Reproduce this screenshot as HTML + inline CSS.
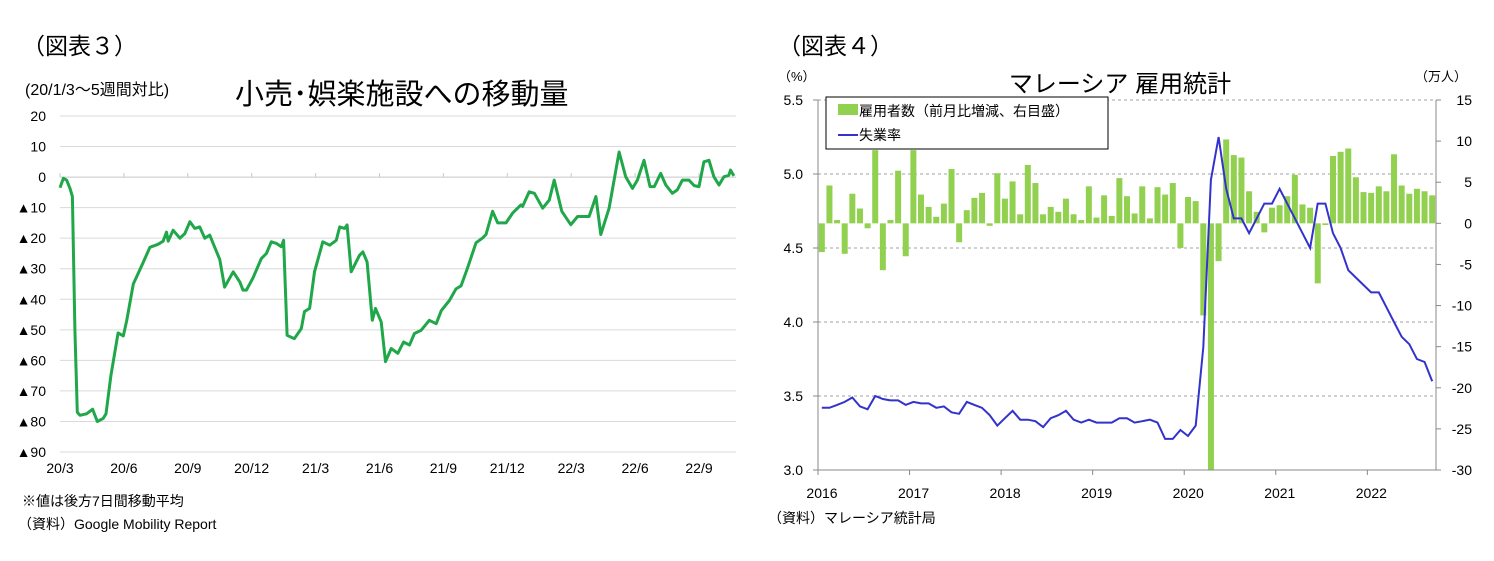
<!DOCTYPE html>
<html><head><meta charset="utf-8">
<style>
body{margin:0;background:#fff;width:1494px;height:561px;overflow:hidden;font-family:"Liberation Sans","Noto Sans CJK JP",sans-serif;}
svg{position:absolute;left:0;top:0}
</style></head>
<body>
<svg id="chart" width="1494" height="561" font-family="'Liberation Sans','Noto Sans CJK JP',sans-serif"></svg>
<script>
// ---------- Left chart data ----------
const mobMonths=[0,0.16,0.31,0.47,0.58,0.7,0.81,0.94,1.25,1.53,1.75,2.03,2.16,2.39,2.73,2.97,3.13,3.44,3.9,4.22,4.6,4.84,5,5.08,5.31,5.63,5.86,6.1,6.33,6.56,6.8,7.03,7.5,7.73,8.13,8.44,8.59,8.75,9.06,9.45,9.69,9.92,10.16,10.39,10.5,10.66,11,11.33,11.48,11.72,11.95,12.34,12.66,12.97,13.13,13.36,13.48,13.67,14.06,14.22,14.42,14.66,14.81,15.08,15.28,15.55,15.86,16.13,16.41,16.64,16.95,17.34,17.66,17.9,18.28,18.59,18.83,19.14,19.53,19.84,20,20.31,20.55,20.94,21.25,21.64,21.72,22.03,22.27,22.66,22.97,23.2,23.56,23.98,24.3,24.84,25.16,25.39,25.78,26.25,26.56,26.88,27.11,27.42,27.7,27.9,28.2,28.44,28.75,28.98,29.22,29.53,29.77,30,30.23,30.47,30.7,30.94,31.17,31.4,31.48,31.64];
const mobValues=[-3.5,-0.4,-1,-3.7,-6.4,-50,-77,-78,-77.5,-76,-80,-79,-77.5,-65,-51,-52,-47,-35,-28,-23,-22,-21,-18,-21,-17.4,-20,-18.5,-14.6,-16.8,-16.3,-20,-19,-27,-36,-31,-34.3,-37,-37,-33,-26.7,-25,-21.2,-21.7,-22.8,-20.7,-51.8,-52.9,-49.6,-44,-43,-31,-21.2,-22.3,-20.7,-16.3,-16.8,-15.7,-31,-25.6,-24.5,-27.8,-46.9,-43,-47.4,-60.4,-56.1,-57.7,-54,-55,-51.2,-50.2,-46.9,-48,-43.7,-40.4,-36.6,-35.6,-29.6,-21.5,-19.9,-18.8,-11.2,-15,-15,-11.8,-9.1,-9.6,-4.8,-5.3,-10.2,-7.5,-1,-11.2,-15.6,-12.9,-12.9,-6.4,-18.8,-10.2,8.2,0.1,-3.7,-1,5.5,-3.1,-3.1,1.2,-2.6,-5.3,-4.2,-1,-1,-2.8,-3.1,5,5.5,0.1,-2.6,0.1,0.6,2.3,0.4];
const mobYTicks=[20,10,0,-10,-20,-30,-40,-50,-60,-70,-80,-90];
const mobXLabels=["20/3","20/6","20/9","20/12","21/3","21/6","21/9","21/12","22/3","22/6","22/9"];
// ---------- Right chart data ----------
const years=["2016","2017","2018","2019","2020","2021","2022"];
const unemp=[3.42,3.42,3.44,3.46,3.49,3.43,3.41,3.50,3.48,3.47,3.47,3.44,
3.46,3.45,3.45,3.42,3.43,3.39,3.38,3.46,3.44,3.42,3.37,3.30,
3.35,3.40,3.34,3.34,3.33,3.29,3.35,3.37,3.40,3.34,3.32,3.34,
3.32,3.32,3.32,3.35,3.35,3.32,3.33,3.34,3.32,3.21,3.21,3.27,
3.23,3.30,3.83,4.96,5.25,4.9,4.7,4.7,4.6,4.7,4.8,4.8,
4.9,4.8,4.7,4.6,4.5,4.8,4.8,4.6,4.5,4.35,4.3,4.25,
4.2,4.2,4.1,4.0,3.9,3.85,3.75,3.73,3.6];
const employ=[-3.5,4.6,0.4,-3.7,3.6,1.8,-0.6,8.9,-5.7,0.4,6.4,-4.0,
8.9,3.5,2.0,0.8,2.4,6.6,-2.3,1.6,3.1,3.7,-0.3,6.1,
3.0,5.1,1.1,7.1,4.9,1.1,2.0,1.4,3.0,1.1,0.4,4.5,
0.7,3.4,0.9,5.5,3.3,1.2,4.5,0.6,4.4,3.5,4.9,-3.0,
3.2,2.7,-11.2,-30,-4.6,10.2,8.3,8.0,3.9,1.4,-1.1,1.9,
2.2,3.3,5.9,2.3,1.9,-7.3,-0.2,8.2,8.7,9.1,5.6,3.8,
3.7,4.5,3.9,8.4,4.6,3.6,4.2,3.9,3.4];
const leftTicks=[5.5,5.0,4.5,4.0,3.5,3.0];
const rightTicks=[15,10,5,0,-5,-10,-15,-20,-25,-30];

const svg=document.getElementById('chart');
const NS='http://www.w3.org/2000/svg';
function el(tag,attrs,parent){const e=document.createElementNS(NS,tag);for(const k in attrs)e.setAttribute(k,attrs[k]);(parent||svg).appendChild(e);return e;}
function txt(s,x,y,size,anchor,parent){const t=el('text',{x:x,y:y,'font-size':size,'text-anchor':anchor||'start',fill:'#000'},parent);t.textContent=s;return t;}

// ===== Left chart =====
const L={x0:60,x1:736,y20:116,y90:452};
const ly=v=>L.y20+(20-v)*(L.y90-L.y20)/110;
const lx=m=>L.x0+m*21.3;
const gL=el('g',{});


let t;
t=txt('（図表３）',22,54,23,'start',gL);
t=txt('(20/1/3～5週間対比)',25,95,16,'start',gL);
t=txt('小売･娯楽施設への移動量',235,104,29,'start',gL);
mobYTicks.forEach(v=>{
  const g=el('line',{x1:L.x0,x2:L.x1,y1:ly(v),y2:ly(v),stroke:v===0?'#c8c8c8':'#d9d9d9','stroke-width':1},gL);
  
  const s=v<=0&&v!==0?'▲'+(-v):String(v);
  const tt=txt(s,46,ly(v)+5,14,'end',gL);
  
});
mobXLabels.forEach((s,i)=>{
  const x=lx(i*3);
  const tk=el('line',{x1:x,x2:x,y1:ly(0)-4,y2:ly(0),stroke:'#c8c8c8'},gL);
  
  const tt=txt(s,x,473,14,'middle',gL);
  
});
const pts=mobMonths.map((m,i)=>lx(m).toFixed(1)+','+ly(mobValues[i]).toFixed(1)).join(' ');
const pl=el('polyline',{points:pts,fill:'none',stroke:'#1fa74a','stroke-width':3,'stroke-linejoin':'round'},gL);

t=txt('※値は後方7日間移動平均',22,506,14,'start',gL);
t=txt('（資料）Google Mobility Report',18,529,14,'start',gL);

// ===== Right chart =====
const R={x0:818,x1:1436,yTop:100,yBot:470};
const mw=(R.x1-R.x0)/81;
const rx=i=>R.x0+(i+0.5)*mw;
const yL=v=>R.yBot-(v-3.0)*(R.yBot-R.yTop)/2.5;
const yR=v=>R.yBot-(v+30)*(R.yBot-R.yTop)/45;
const gR=el('g',{});


t=txt('（図表４）',778,54,23,'start',gR);
t=txt('マレーシア 雇用統計',1120,92,24,'middle',gR);
t=txt('（%）',778,81,13,'start',gR);
t=txt('（万人）',1415,81,13,'start',gR);
leftTicks.forEach(v=>{
  if(v>3.0){const g=el('line',{x1:R.x0,x2:R.x1,y1:yL(v),y2:yL(v),stroke:'#a0a0a0','stroke-dasharray':'3,3'},gR);
  }
  const tk=el('line',{x1:R.x0-5,x2:R.x0,y1:yL(v),y2:yL(v),stroke:'#888'},gR);
  
  const tt=txt(v.toFixed(1),803,yL(v)+5,14,'end',gR);
  
});
rightTicks.forEach(v=>{
  const tk=el('line',{x1:R.x1,x2:R.x1+5,y1:yR(v),y2:yR(v),stroke:'#888'},gR);
  
  const tt=txt(String(v),1472,yR(v)+5,14,'end',gR);
  
});
employ.forEach((v,i)=>{
  const y0=yR(0),y1=yR(Math.max(-30,v));
  const b=el('rect',{x:rx(i)-3,y:Math.min(y0,y1),width:6,height:Math.abs(y1-y0),fill:'#92d050'},gR);
  
});
const ax=el('path',{d:`M${R.x0},${R.yTop} V${R.yBot} H${R.x1} V${R.yTop}`,fill:'none',stroke:'#888'},gR);

years.forEach((s,i)=>{
  const x=R.x0+i*12*mw;
  const tk=el('line',{x1:x,x2:x,y1:R.yBot,y2:R.yBot+5,stroke:'#888'},gR);
  
  const tt=txt(s,x+4,498,14,'middle',gR);
  
});
const up=unemp.map((v,i)=>rx(i).toFixed(1)+','+yL(v).toFixed(1)).join(' ');
const ul=el('polyline',{points:up,fill:'none',stroke:'#3333cc','stroke-width':2},gR);

const lg=el('g',{},gR);

const lb=el('rect',{x:826,y:97,width:282,height:52,fill:'#fff',stroke:'#000'},lg);

const ls=el('rect',{x:838,y:104,width:20,height:11,fill:'#92d050'},lg);

t=txt('雇用者数（前月比増減、右目盛）',859,116,14,'start',lg);
const ll=el('line',{x1:838,x2:858,y1:135,y2:135,stroke:'#3333cc','stroke-width':2},lg);

t=txt('失業率',859,140,14,'start',lg);
t=txt('（資料）マレーシア統計局',768,523,14,'start',gR);
</script>
</body></html>
